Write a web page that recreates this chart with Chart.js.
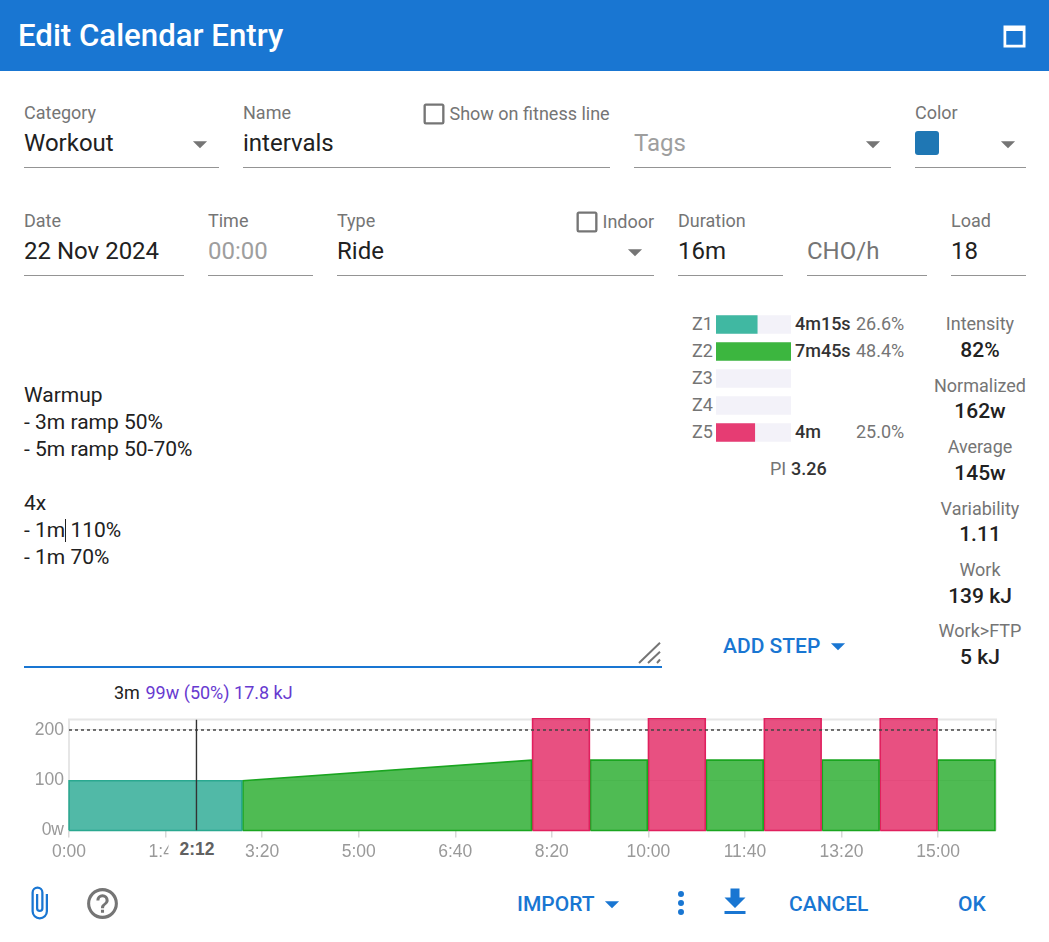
<!DOCTYPE html>
<html><head><meta charset="utf-8">
<script src="https://cdn.jsdelivr.net/npm/chart.js@4"></script>
<style>
html,body{margin:0;padding:0;background:#fff;width:1049px;height:942px;overflow:hidden;font-family:Roboto,sans-serif}
#hdr{position:absolute;left:0;top:0;width:1049px;height:71px;background:#1976d2}
.t{position:absolute;white-space:pre;line-height:1;transform:translateY(-50%)}
.c{transform:translate(-50%,-50%)}
.u{position:absolute;height:1px;background:#949494}
svg.i{position:absolute}
canvas{position:absolute}
</style></head><body>
<div id="hdr"></div>
<div id="ui"></div>
<canvas id="zoneChart" style="left:716px;top:310.5px;width:75px;height:135px"></canvas>
<canvas id="workoutChart" style="left:0;top:700px;width:1049px;height:170px"></canvas>
<div id="over"></div>
<script>
// ---- workout steps ----
const stepStarts = [0,180,480,540,600,660,720,780,840,900];
const stepEnds = [180,480,540,600,660,720,780,840,900,960];
const stepStartWatts = [99,99,222,140,222,140,222,140,222,140];
const stepEndWatts = [99,140,222,140,222,140,222,140,222,140];
const stepZones = [0,1,4,1,4,1,4,1,4,1];
const ftpSeconds = [0,960];
const ftpWatts = [200,200];
const cursorSeconds = [132,132];
const cursorWatts = [0,220.7];
// ---- zones ----
const zoneNames = ['Z1','Z2','Z3','Z4','Z5'];
const zonePercents = [26.6,48.4,0,0,25.0];
const zoneTimes = ['4m15s','7m45s','','','4m'];
const zonePercentLabels = ['26.6%','48.4%','','','25.0%'];
const zoneColors = ['#40b8a2','#3cb63f','#f3f2f9','#f3f2f9','#e63c73'];
const zoneFills = ['rgba(38,168,145,.8)','rgba(35,170,40,.8)','','','rgba(226,36,98,.8)'];
const zoneBorders = ['#2aa890','#1aa520','','','#e0205e'];
// ---- stats ----
const statNames = ['Intensity','Normalized','Average','Variability','Work','Work>FTP'];
const statValues = ['82%','162w','145w','1.11','139 kJ','5 kJ'];
const workoutText = ['Warmup','- 3m ramp 50%','- 5m ramp 50-70%','','4x','- 1m 110%','- 1m 70%'];

const GREY='#757575', DARK='#212121', BLUE='#1976d2', HINT='#9e9e9e';
const ui=document.getElementById('ui'), over=document.getElementById('over');
function txt(x,y,s,size,color,weight,center,parent){
  const e=document.createElement('div');e.className='t'+(center?' c':'');
  e.textContent=s;e.style.cssText=`left:${x}px;top:${y}px;font-size:${size}px;color:${color};font-weight:${weight||400}`;
  (parent||ui).appendChild(e);return e;
}
function line(x1,x2,y,color,h){const e=document.createElement('div');e.className='u';
  e.style.cssText=`left:${x1}px;width:${x2-x1}px;top:${y}px;height:${h||1}px;background:${color||'#949494'}`;ui.appendChild(e);}
function icon(x,y,size,color,d){
  ui.insertAdjacentHTML('beforeend',`<svg class="i" style="left:${x}px;top:${y}px" width="${size}" height="${size}" viewBox="0 0 24 24"><path fill="${color}" d="${d}"/></svg>`);
}
const CARET='M7,10L12,15L17,10H7Z',BOX='M19,3H5C3.89,3 3,3.89 3,5V19A2,2 0 0,0 5,21H19A2,2 0 0,0 21,19V5C21,3.89 20.1,3 19,3M19,5V19H5V5H19Z';

txt(18,35.5,'Edit Calendar Entry',31.2,'#fff',500);
icon(997.5,19.5,33,'#fff','M4,4H20V20H4V4M6,8V18H18V8H6Z');

txt(24,113,'Category',18,GREY);txt(24,142.5,'Workout',24,DARK);icon(183,127,34,GREY,CARET);line(24,219,167);
txt(243,113,'Name',18,GREY);txt(243,142.5,'intervals',24,DARK);line(243,610,167);
icon(420,100,28,GREY,BOX);txt(449.5,114,'Show on fitness line',18,GREY);
txt(634,142.5,'Tags',24,HINT);icon(856,127,34,GREY,CARET);line(634,891,167);
txt(915,113,'Color',18,GREY);
ui.insertAdjacentHTML('beforeend','<div style="position:absolute;left:915px;top:131px;width:24px;height:24px;border-radius:3px;background:#1f77b4"></div>');
icon(991,127,34,GREY,CARET);line(915,1026,167);

txt(24,221,'Date',18,GREY);txt(24,250.5,'22 Nov 2024',24,DARK);line(24,184,275);
txt(208,221,'Time',18,GREY);txt(208,250.5,'00:00',24,HINT);line(208,313,275);
txt(337,221,'Type',18,GREY);txt(337,250.5,'Ride',24,DARK);icon(618,235,34,GREY,CARET);line(337,654,275);
icon(573,208,28,GREY,BOX);txt(602.5,222,'Indoor',18,GREY);
txt(678,221,'Duration',18,GREY);txt(678,250.5,'16m',24,DARK);line(678,783,275);
txt(807,250.5,'CHO/h',24,GREY);line(807,927,275);
txt(951,221,'Load',18,GREY);txt(951,250.5,'18',24,DARK);line(951,1026,275);

workoutText.forEach((s,i)=>{ if(s) txt(24,395+27*i,s,21,DARK); });
ui.insertAdjacentHTML('beforeend','<div style="position:absolute;left:65px;top:519px;width:1px;height:23px;background:#212121"></div>');
line(24,662,666,BLUE,2);
ui.insertAdjacentHTML('beforeend','<svg class="i" style="left:636px;top:640px" width="28" height="26"><g stroke="#757575" stroke-width="2"><path d="M3,23L24,2.7M12,23L24,11.7M21,23L24,19.5"/></g></svg>');
txt(723,646,'ADD STEP',21,BLUE,500);icon(821,629,34,BLUE,CARET);

zoneNames.forEach((z,i)=>{const y=324+27*i;
  txt(692,y,z,18,GREY);
  if(zoneTimes[i]) txt(795,y,zoneTimes[i],18,'#333',500);
  if(zonePercentLabels[i]) txt(856,y,zonePercentLabels[i],18,GREY);
});
txt(770,469,'PI',18,GREY);txt(791,469,'3.26',18,'#333',500);

statNames.forEach((s,i)=>{const y=324.4+61.4*i;
  txt(980,y,s,18,GREY,400,true);
  txt(980,y+25.6,statValues[i],21,DARK,500,true);
});

txt(114,693,'3m',18,DARK);txt(145.5,693,'99w (50%) 17.8 kJ',18,'#673ad0');

icon(20.5,884.5,36,BLUE,'M16.5,6V17.5A4,4 0 0,1 12.5,21.5A4,4 0 0,1 8.5,17.5V5A2.5,2.5 0 0,1 11,2.5A2.5,2.5 0 0,1 13.5,5V15.5A1,1 0 0,1 12.5,16.5A1,1 0 0,1 11.5,15.5V6H10V15.5A2.5,2.5 0 0,0 12.5,18A2.5,2.5 0 0,0 15,15.5V5A4,4 0 0,0 11,1A4,4 0 0,0 7,5V17.5A5.5,5.5 0 0,0 12.5,23A5.5,5.5 0 0,0 18,17.5V6H16.5Z');
icon(84,884.5,37,GREY,'M11,18H13V16H11V18M12,2A10,10 0 0,0 2,12A10,10 0 0,0 12,22A10,10 0 0,0 22,12A10,10 0 0,0 12,2M12,20C7.59,20 4,16.41 4,12C4,7.59 7.59,4 12,4C16.41,4 20,7.59 20,12C20,16.41 16.41,20 12,20M12,6A4,4 0 0,0 8,10H10A2,2 0 0,1 12,8A2,2 0 0,1 14,10C14,12 11,11.75 11,15H13C13,12.75 16,12.5 16,10A4,4 0 0,0 12,6Z');
txt(517,904,'IMPORT',21,BLUE,500);icon(595,887,34,BLUE,CARET);
icon(662.5,885,36,BLUE,'M12,16A2,2 0 0,1 14,18A2,2 0 0,1 12,20A2,2 0 0,1 10,18A2,2 0 0,1 12,16M12,10A2,2 0 0,1 14,12A2,2 0 0,1 12,14A2,2 0 0,1 10,12A2,2 0 0,1 12,10M12,4A2,2 0 0,1 14,6A2,2 0 0,1 12,8A2,2 0 0,1 10,6A2,2 0 0,1 12,4Z');
icon(717,884,36,BLUE,'M5,20H19V18H5M19,9H15V3H9V9H5L12,16L19,9Z');
txt(789,904,'CANCEL',21,BLUE,500);txt(958,904,'OK',21,BLUE,500);

// cursor time label, sits over the tick row
const cur=txt(197,850,'2:12',17.5,'#616161',700,true,over);
cur.style.background='#fff';cur.style.padding='2px 11px';cur.style.fontFamily='"Liberation Sans",Arial,sans-serif';

// ---- zone bars ----
new Chart(document.getElementById('zoneChart'),{
  type:'bar',
  data:{labels:zoneNames,datasets:[
    {data:zonePercents,backgroundColor:zoneColors,barThickness:18,grouped:false,order:0},
    {data:zoneNames.map(()=>Math.max(...zonePercents)),backgroundColor:'#f3f2f9',barThickness:18,grouped:false,order:1}
  ]},
  options:{indexAxis:'y',responsive:false,animation:false,maintainAspectRatio:false,
    layout:{padding:0},
    plugins:{legend:{display:false},tooltip:{enabled:false}},
    scales:{x:{display:false,min:0,max:Math.max(...zonePercents)},y:{display:false}}}
});

// ---- workout chart ----
const stepLead=0.1, stepTrail=1.1;
const stepSets=stepStarts.flatMap((s,i)=>{
  const a=s+stepLead,b=stepEnds[i]-stepTrail,col=zoneBorders[stepZones[i]];
  return [
    {data:[{x:a,y:stepStartWatts[i]},{x:b,y:stepEndWatts[i]}],
     borderColor:'transparent',borderWidth:0,backgroundColor:zoneFills[stepZones[i]],fill:'origin',pointRadius:0,tension:0,clip:false,order:6},
    {data:[{x:a,y:0},{x:a,y:stepStartWatts[i]},{x:b,y:stepEndWatts[i]},{x:b,y:0},{x:a,y:0}],
     borderColor:col,borderWidth:1.6,fill:false,pointRadius:0,tension:0,clip:false,order:5}
  ];
});
const frame={id:'frame',beforeDatasetsDraw(c){const a=c.chartArea,x=c.ctx;x.save();x.strokeStyle='#e6e6e6';x.lineWidth=2;
  x.beginPath();x.moveTo(a.left,a.bottom);x.lineTo(a.left,a.top);x.lineTo(a.right,a.top);x.lineTo(a.right,a.bottom);x.stroke();x.restore();}};
new Chart(document.getElementById('workoutChart'),{
  type:'line',
  data:{datasets:[
    {data:ftpWatts.map((y,i)=>({x:ftpSeconds[i],y})),borderColor:'#444',borderWidth:1.5,borderDash:[3,3],pointRadius:0,fill:false,order:1},
    {data:cursorSeconds.map((x,i)=>({x,y:cursorWatts[i]})),borderColor:'#333',borderWidth:1.4,pointRadius:0,fill:false,order:0},
    ...stepSets
  ]},
  plugins:[frame],
  options:{responsive:false,animation:false,maintainAspectRatio:false,
    layout:{padding:{left:0,right:53,top:19.5,bottom:0}},
    plugins:{legend:{display:false},tooltip:{enabled:false}},
    scales:{
      x:{type:'linear',min:0,max:960,
        grid:{drawOnChartArea:false,drawTicks:true,tickLength:7,color:'#d8d8d8',lineWidth:1.5},border:{display:false},
        afterFit(s){s.height=39.5;},
        ticks:{stepSize:100,includeBounds:false,maxRotation:0,autoSkip:false,color:'#999',padding:4,font:{size:17.5,family:'"Liberation Sans",Arial,sans-serif'},
          callback:v=>Math.floor(v/60)+':'+String(v%60).padStart(2,'0')}},
      y:{min:0,max:220.7,
        grid:{color:'rgba(0,0,0,.1)',lineWidth:1,drawTicks:false},border:{display:false},
        afterFit(s){s.width=69;},
        ticks:{stepSize:100,includeBounds:false,color:'#999',padding:5,font:{size:17.5,family:'"Liberation Sans",Arial,sans-serif'},
          callback:v=>v===0?'0w':String(v)}}
    }}
});
</script>
</body></html>
